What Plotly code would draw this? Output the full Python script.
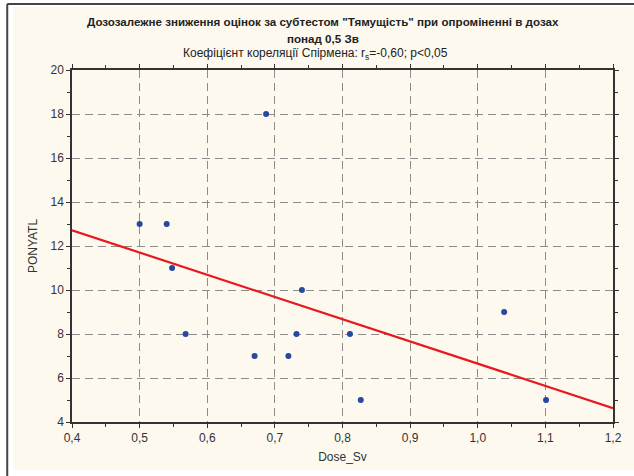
import numpy as np
import plotly.graph_objects as go

dose_sv = [0.500, 0.540, 0.548, 0.568, 0.670, 0.687, 0.720, 0.732, 0.740, 0.811, 0.827, 1.039, 1.101]
ponyatl = [13, 13, 11, 8, 7, 18, 7, 8, 10, 8, 5, 9, 5]
x_ticks = [0.4, 0.5, 0.6, 0.7, 0.8, 0.9, 1.0, 1.1, 1.2]
x_tick_labels = ["0,4", "0,5", "0,6", "0,7", "0,8", "0,9", "1,0", "1,1", "1,2"]
y_ticks = [4, 6, 8, 10, 12, 14, 16, 18, 20]

slope, intercept = np.polyfit(dose_sv, ponyatl, 1)
line_x = [0.4, 1.2]
line_y = [intercept + slope * v for v in line_x]

font = "Liberation Sans, Arial, sans-serif"
fig = go.Figure()
fig.add_trace(go.Scatter(x=line_x, y=line_y, mode="lines",
                         line=dict(color="#e8191c", width=2.2), hoverinfo="skip"))
fig.add_trace(go.Scatter(x=dose_sv, y=ponyatl, mode="markers",
                         marker=dict(color="#2747a0", size=6)))

axis_common = dict(showline=True, linecolor="#333333", linewidth=1.5, mirror="allticks",
                   ticks="outside", ticklen=4, tickcolor="#333333",
                   showgrid=True, gridcolor="#8c8c8c", griddash="8px,5px", gridwidth=1,
                   zeroline=False, tickfont=dict(family=font, size=12, color="#333333"))
fig.update_xaxes(range=[0.4, 1.2], tickvals=x_ticks, ticktext=x_tick_labels,
                 minor=dict(dtick=0.05, ticks="outside", ticklen=3, tickcolor="#333333", showgrid=False),
                 title=dict(text="Dose_Sv", font=dict(family=font, size=12, color="#333333"), standoff=8),
                 **axis_common)
fig.update_yaxes(range=[4, 20], tickvals=y_ticks,
                 minor=dict(dtick=1, ticks="outside", ticklen=3, tickcolor="#333333", showgrid=False),
                 title=dict(text="PONYATL", font=dict(family=font, size=12, color="#333333"), standoff=10),
                 **axis_common)

title_lines = [
    ("<b>Дозозалежне зниження оцінок за субтестом \"Тямущість\" при опроміненні в дозах</b>", 22, 324, 11.6),
    ("<b>понад 0,5 Зв</b>", 38, 324, 11.6),
    ("Коефіцієнт кореляції Спірмена: r<sub>s</sub>=-0,60; p&lt;0,05", 54, 316, 12),
]
annotations = []
for text, py, px, size in title_lines:
    annotations.append(dict(text=text, xref="paper", yref="paper",
                            x=(px - 72) / 543, y=(422 - py) / 352,
                            xanchor="center", yanchor="middle", showarrow=False,
                            font=dict(family=font, size=size, color="#222222")))

fig.update_layout(
    width=634, height=476, showlegend=False,
    margin=dict(l=72, r=18, t=70, b=54),
    paper_bgcolor="white", plot_bgcolor="white",
    font=dict(family=font, color="#333333"),
    annotations=annotations,
    shapes=[
        dict(type="rect", xref="paper", yref="paper", layer="below",
             x0=(13 - 72) / 543, x1=(640 - 72) / 543, y0=(422 - 470) / 352, y1=(422 - 7) / 352,
             fillcolor="#fdf9ef", line=dict(width=0)),
        dict(type="line", xref="paper", yref="paper", x0=(7 - 72) / 543, x1=(7 - 72) / 543,
             y0=-0.3, y1=(422 - 4) / 352, line=dict(color="#444444", width=2)),
        dict(type="line", xref="paper", yref="paper", x0=(7 - 72) / 543, x1=1.2,
             y0=(422 - 4) / 352, y1=(422 - 4) / 352, line=dict(color="#444444", width=2)),
    ],
)
fig.write_html("out.html", config={"displayModeBar": False},
               post_script="document.body.style.margin='0';")
